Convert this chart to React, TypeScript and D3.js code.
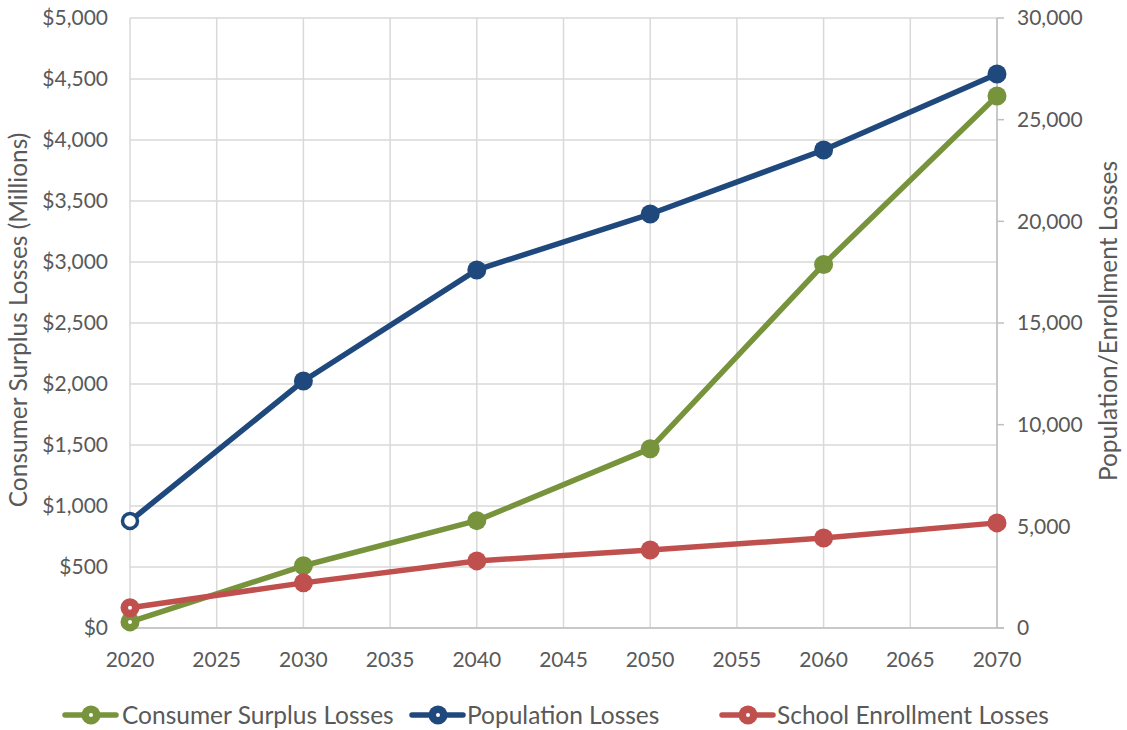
import React from "react";
import * as d3 from "d3";

const years = [2020, 2030, 2040, 2050, 2060, 2070];
const consumerSurplus = [50, 510, 880, 1470, 2980, 4360];
const population = [5260, 12150, 17610, 20360, 23510, 27250];
const enrollment = [1000, 2220, 3300, 3840, 4430, 5170];
const leftTicks = [0, 500, 1000, 1500, 2000, 2500, 3000, 3500, 4000, 4500, 5000];
const rightTicks = [0, 5000, 10000, 15000, 20000, 25000, 30000];
const xTicks = [2020, 2025, 2030, 2035, 2040, 2045, 2050, 2055, 2060, 2065, 2070];
const seriesNames = ["Consumer Surplus Losses", "Population Losses", "School Enrollment Losses"];

const W = 1127, H = 730;
const FONT = "Lato, 'Open Sans', sans-serif";
const TXT = "#595959";
const GRID = "#d9d9d9";
const AXIS = "#bfbfbf";
const GREEN = "#77933C", BLUE = "#1F497D", RED = "#C0504D";
const TICK_FS = 21;
const TITLE_FS = 24.5;

export default function App() {
  const x = d3.scaleLinear().domain([2020, 2070]).range([130, 997]);
  const yL = d3.scaleLinear().domain([0, 5000]).range([628, 18]);
  const yR = d3.scaleLinear().domain([0, 30000]).range([628, 18]);
  const line = d3.line<[number, number]>().x(d => d[0]).y(d => d[1]);

  const series = [
    { name: seriesNames[0], color: GREEN, pts: years.map((yr, i) => [x(yr), yL(consumerSurplus[i])] as [number, number]) },
    { name: seriesNames[1], color: BLUE, pts: years.map((yr, i) => [x(yr), yR(population[i])] as [number, number]) },
    { name: seriesNames[2], color: RED, pts: years.map((yr, i) => [x(yr), yR(enrollment[i])] as [number, number]) },
  ];

  const legendItems = [
    { lx: 63, tx: 122 },
    { lx: 410, tx: 467 },
    { lx: 720, tx: 777 },
  ];

  return (
    <svg width={W} height={H} style={{ position: "absolute", left: 0, top: 0, background: "#fff" }} fontFamily={FONT}>
      {leftTicks.map(t => (
        <line key={"h" + t} x1={130} x2={997} y1={yL(t)} y2={yL(t)} stroke={GRID} strokeWidth={1.5} />
      ))}
      {xTicks.map(t => (
        <line key={"v" + t} x1={x(t)} x2={x(t)} y1={18} y2={628} stroke={GRID} strokeWidth={1.5} />
      ))}
      <line x1={130} x2={1004} y1={628} y2={628} stroke={AXIS} strokeWidth={1.5} />
      <line x1={997} x2={997} y1={18} y2={628} stroke={AXIS} strokeWidth={1.5} />
      {rightTicks.map(t => (
        <line key={"rt" + t} x1={997} x2={1004} y1={yR(t)} y2={yR(t)} stroke={AXIS} strokeWidth={1.5} />
      ))}
      {leftTicks.map(t => (
        <text key={"ll" + t} x={108} y={yL(t)} dy="0.35em" textAnchor="end" fontSize={TICK_FS} fill={TXT}>
          {"$" + d3.format(",")(t)}
        </text>
      ))}
      {rightTicks.map(t => (
        <text key={"rl" + t} x={1017} y={yR(t)} dy="0.35em" textAnchor="start" fontSize={TICK_FS} fill={TXT}>
          {d3.format(",")(t)}
        </text>
      ))}
      {xTicks.map(t => (
        <text key={"xl" + t} x={x(t)} y={667} textAnchor="middle" fontSize={TICK_FS} fill={TXT}>
          {t}
        </text>
      ))}
      <text transform={`translate(27,320) rotate(-90)`} textAnchor="middle" fontSize={TITLE_FS} fill={TXT}>
        Consumer Surplus Losses (Millions)
      </text>
      <text transform={`translate(1117,321) rotate(-90)`} textAnchor="middle" fontSize={TITLE_FS} fill={TXT}>
        Population/Enrollment Losses
      </text>
      {series.map((s, si) => (
        <g key={s.name}>
          <path d={line(s.pts) || ""} fill="none" stroke={s.color} strokeWidth={5.5} strokeLinejoin="round" />
          {s.pts.map((p, i) => {
            if (i === 0 && si === 1) {
              return <circle key={i} cx={p[0]} cy={p[1]} r={7.5} fill="#fff" stroke={s.color} strokeWidth={3.5} />;
            }
            return (
              <g key={i}>
                <circle cx={p[0]} cy={p[1]} r={9.5} fill={s.color} />
                {i === 0 && <circle cx={p[0]} cy={p[1]} r={2} fill="#fff" />}
              </g>
            );
          })}
        </g>
      ))}
      {series.map((s, i) => {
        const L = legendItems[i];
        const cy = 715;
        return (
          <g key={"lg" + i}>
            <line x1={L.lx + 2} x2={L.lx + 53} y1={cy} y2={cy} stroke={s.color} strokeWidth={5.5} strokeLinecap="round" />
            <circle cx={L.lx + 28} cy={cy} r={9.5} fill={s.color} />
            <circle cx={L.lx + 28} cy={cy} r={2} fill="#fff" />
            <text x={L.tx} y={cy} dy="0.35em" fontSize={TITLE_FS} fill={TXT}>{s.name}</text>
          </g>
        );
      })}
    </svg>
  );
}
